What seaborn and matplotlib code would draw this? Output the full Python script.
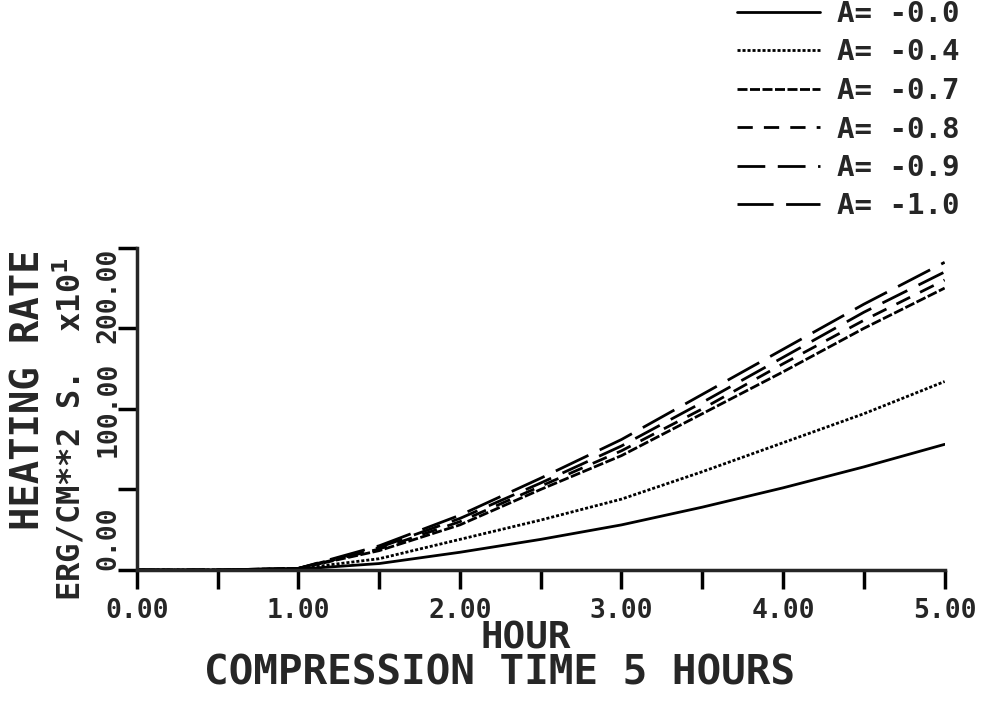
import numpy as np
import pandas as pd
import matplotlib
matplotlib.use("Agg")
import matplotlib.pyplot as plt
import seaborn as sns

sns.set_style("ticks")
plt.rcParams['font.family'] = ['DejaVu Sans Mono', 'DejaVu Sans']
plt.rcParams['font.weight'] = 'bold'

hours = [0.0, 0.5, 1.0, 1.5, 2.0, 2.5, 3.0, 3.5, 4.0, 4.5, 5.0]
series_labels = ["A= -0.0", "A= -0.4", "A= -0.7", "A= -0.8", "A= -0.9", "A= -1.0"]
rate_a00 = [0, 0, 0.5, 4, 11, 19, 28, 39, 51, 64, 78]
rate_a04 = [0, 0, 0.8, 7, 19, 31, 44, 61, 79, 97, 117]
rate_a07 = [0, 0, 1, 12, 28, 50, 71, 97, 123, 150, 175]
rate_a08 = [0, 0, 1, 13, 30, 52, 74, 100, 128, 155, 180]
rate_a09 = [0, 0, 1, 14, 32, 54, 77, 104, 132, 160, 185]
rate_a10 = [0, 0, 1, 15, 34, 57, 81, 109, 137, 165, 191]
all_rates = [rate_a00, rate_a04, rate_a07, rate_a08, rate_a09, rate_a10]

x_ticks = [0, 1, 2, 3, 4, 5]
x_ticklabels = ["0.00", "1.00", "2.00", "3.00", "4.00", "5.00"]
y_ticks = [0, 100, 200]
y_ticklabels = ["0.00", "100.00", "200.00"]

rows = []
for lab, vals in zip(series_labels, all_rates):
    for h, v in zip(hours, vals):
        rows.append({"hour": h, "rate": v, "series": lab})
df = pd.DataFrame(rows)

dash_map = {
    series_labels[0]: "",
    series_labels[1]: (1.1, 0.7),
    series_labels[2]: (3.6, 0.9),
    series_labels[3]: (5.5, 4.0),
    series_labels[4]: (10, 4.5),
    series_labels[5]: (13, 4.5),
}

fig = plt.figure(figsize=(9.84, 7.05), dpi=100)
ax = fig.add_axes([0.139, 0.1915, 0.821, 0.457])

sns.lineplot(data=df, x="hour", y="rate", style="series", dashes=dash_map,
             color="black", linewidth=2.0, ax=ax, legend="full")

ax.set_xlim(0, 5)
ax.set_ylim(0, 200)
sns.despine(ax=ax)
ax.spines['left'].set_linewidth(2.5)
ax.spines['bottom'].set_linewidth(2.5)

ax.set_xticks(x_ticks)
ax.set_xticklabels(x_ticklabels, fontsize=19, fontweight='bold')
ax.set_xticks(np.arange(0.5, 5, 1.0), minor=True)
ax.set_yticks(y_ticks)
ax.set_yticklabels(y_ticklabels, fontsize=19, fontweight='bold', rotation=90)
for lbl, va in zip(ax.get_yticklabels(), ['bottom', 'center', 'top']):
    lbl.set_va(va)
ax.set_yticks([50, 150], minor=True)
ax.tick_params(axis='both', which='both', direction='out', length=14, width=2.5, color='black')
ax.tick_params(axis='x', pad=6)
ax.tick_params(axis='y', pad=-3)

ax.set_xlabel("")
ax.set_ylabel("")
fig.text(0.534, 0.095, "HOUR", ha='center', va='center', fontsize=27, fontweight='bold')
fig.text(0.508, 0.045, "COMPRESSION TIME 5 HOURS", ha='center', va='center',
         fontsize=29.5, fontweight='bold')
fig.text(0.029, 0.447, "HEATING RATE", ha='center', va='center', rotation=90,
         fontsize=28, fontweight='bold')
fig.text(0.071, 0.391, "ERG/CM**2 S.  x10$^1$", ha='center', va='center', rotation=90,
         fontsize=23, fontweight='bold')

handles, labels = ax.get_legend_handles_labels()
ax.legend(handles, labels, loc='upper right', bbox_to_anchor=(0.975, 1.0),
          bbox_transform=fig.transFigure, frameon=False,
          handlelength=2.85, labelspacing=0.36, handletextpad=0.58,
          borderpad=0, borderaxespad=0,
          prop={'weight': 'bold', 'size': 21})

fig.savefig("out.png", dpi=100, facecolor='white')
